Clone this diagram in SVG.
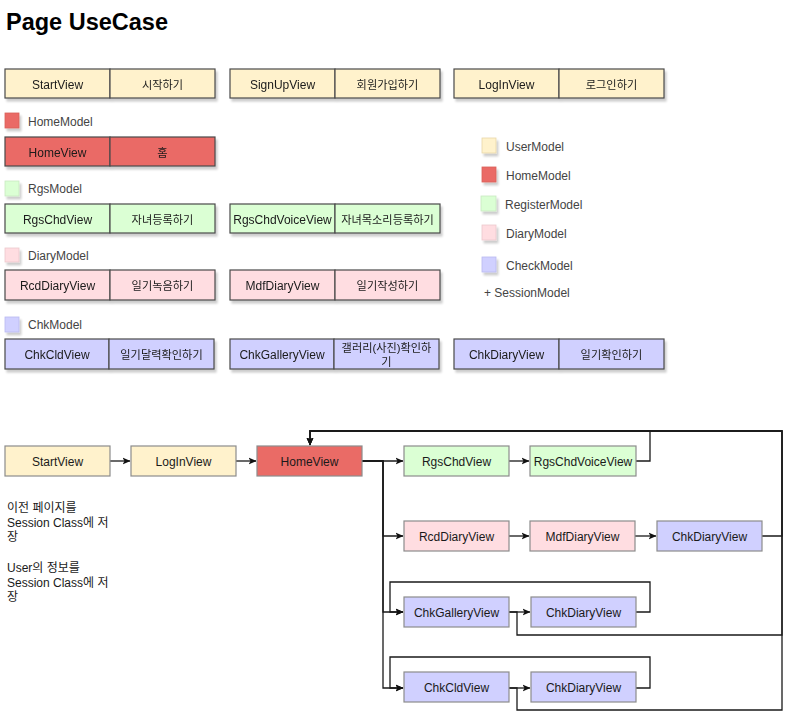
<svg xmlns="http://www.w3.org/2000/svg" width="792" height="719" viewBox="0 0 792 719">
<defs>
<filter id="sh" x="-20%" y="-20%" width="150%" height="160%">
<feGaussianBlur in="SourceAlpha" stdDeviation="1"/>
<feOffset dx="2" dy="2.5" result="o"/>
<feComponentTransfer><feFuncA type="linear" slope="0.2"/></feComponentTransfer>
<feMerge><feMergeNode/><feMergeNode in="SourceGraphic"/></feMerge>
</filter>
<marker id="arr" markerWidth="10" markerHeight="10" refX="7.5" refY="4" orient="auto" markerUnits="userSpaceOnUse">
<path d="M0,0.5 L8,4 L0,7.5 L2,4 Z" fill="#111"/>
</marker>
</defs>
<style>
text{font-family:"Liberation Sans","Noto Sans CJK KR",Arial,sans-serif;font-size:12px;fill:#1a1a1a}
.c{text-anchor:middle;dominant-baseline:central;transform:translateY(1px)}
.k{font-size:11.2px}
.lg{fill:#444;dominant-baseline:central;transform:translateY(1px)}
.cell{stroke:#4a4a4a;stroke-width:1.2}
.node{stroke:#8c8c8c;stroke-width:1.2}
.y{fill:#fff2cc}.r{fill:#ea6b66}.g{fill:#dbffd4}.p{fill:#ffdde1}.b{fill:#d0d0ff}
.sw{stroke-width:0.8;filter:url(#sh)}
.e{fill:none;stroke:#1a1a1a;stroke-width:1.3}
.ea{fill:none;stroke:#1a1a1a;stroke-width:1.3;marker-end:url(#arr)}
</style>
<rect width="792" height="719" fill="#fff"/>
<text id="title" x="6" y="30" style="font-size:23.5px;font-weight:bold;fill:#000">Page UseCase</text>

<!-- Table rows -->
<g id="t-start" filter="url(#sh)"><rect class="cell y" x="5" y="69" width="105" height="29"/><rect class="cell y" x="110" y="69" width="105" height="29"/><text class="c" x="57.5" y="83.5">StartView</text><text class="c k" x="162.5" y="83.5">시작하기</text></g>
<g id="t-signup" filter="url(#sh)"><rect class="cell y" x="230" y="69" width="105" height="29"/><rect class="cell y" x="335" y="69" width="105" height="29"/><text class="c" x="282.5" y="83.5">SignUpView</text><text class="c k" x="387.5" y="83.5">회원가입하기</text></g>
<g id="t-login" filter="url(#sh)"><rect class="cell y" x="454" y="69" width="105" height="29"/><rect class="cell y" x="559" y="69" width="105" height="29"/><text class="c" x="506.5" y="83.5">LogInView</text><text class="c k" x="611.5" y="83.5">로그인하기</text></g>

<g id="sw-home"><rect class="sw r" x="5" y="113" width="14" height="15" stroke="#d9605b"/><text class="lg" x="28" y="121">HomeModel</text></g>
<g id="t-home" filter="url(#sh)"><rect class="cell r" x="5" y="137" width="105" height="29"/><rect class="cell r" x="110" y="137" width="105" height="29"/><text class="c" x="57.5" y="151.5">HomeView</text><text class="c k" x="162.5" y="151.5">홈</text></g>

<g id="sw-rgs"><rect class="sw g" x="5" y="181" width="14" height="15" stroke="#c9e8c0"/><text class="lg" x="28" y="188">RgsModel</text></g>
<g id="t-rgschd" filter="url(#sh)"><rect class="cell g" x="5" y="204" width="105" height="29"/><rect class="cell g" x="110" y="204" width="105" height="29"/><text class="c" x="57.5" y="218.5">RgsChdView</text><text class="c k" x="162.5" y="218.5">자녀등록하기</text></g>
<g id="t-rgsvoice" filter="url(#sh)"><rect class="cell g" x="230" y="204" width="105" height="29"/><rect class="cell g" x="335" y="204" width="105" height="29"/><text class="c" x="282.5" y="218.5">RgsChdVoiceView</text><text class="c k" x="387.5" y="218.5">자녀목소리등록하기</text></g>

<g id="sw-diary"><rect class="sw p" x="5" y="248" width="14" height="14" stroke="#ecc8cc"/><text class="lg" x="28" y="255">DiaryModel</text></g>
<g id="t-rcd" filter="url(#sh)"><rect class="cell p" x="5" y="270" width="105" height="30"/><rect class="cell p" x="110" y="270" width="105" height="30"/><text class="c" x="57.5" y="285">RcdDiaryView</text><text class="c k" x="162.5" y="285">일기녹음하기</text></g>
<g id="t-mdf" filter="url(#sh)"><rect class="cell p" x="230" y="270" width="105" height="30"/><rect class="cell p" x="335" y="270" width="105" height="30"/><text class="c" x="282.5" y="285">MdfDiaryView</text><text class="c k" x="387.5" y="285">일기작성하기</text></g>

<g id="sw-chk"><rect class="sw b" x="5" y="317" width="14" height="15" stroke="#babaf0"/><text class="lg" x="28" y="324">ChkModel</text></g>
<g id="t-chkcld" filter="url(#sh)"><rect class="cell b" x="5" y="339" width="104" height="30"/><rect class="cell b" x="109" y="339" width="105" height="30"/><text class="c" x="57" y="354">ChkCldView</text><text class="c k" x="161.5" y="354">일기달력확인하기</text></g>
<g id="t-chkgal" filter="url(#sh)"><rect class="cell b" x="230" y="339" width="104" height="30"/><rect class="cell b" x="334" y="339" width="105" height="30"/><text class="c" x="282" y="354">ChkGalleryView</text><text class="c k" x="386.5" y="347">갤러리(사진)확인하</text><text class="c k" x="386.5" y="361">기</text></g>
<g id="t-chkdiary" filter="url(#sh)"><rect class="cell b" x="454" y="339" width="105" height="30"/><rect class="cell b" x="559" y="339" width="105" height="30"/><text class="c" x="506.5" y="354">ChkDiaryView</text><text class="c k" x="611.5" y="354">일기확인하기</text></g>

<!-- Legend -->
<g id="legend">
<rect class="sw y" x="482" y="138" width="14" height="15" stroke="#e8d8a8"/><text class="lg" x="506" y="146">UserModel</text>
<rect class="sw r" x="482" y="167" width="14" height="15" stroke="#d9605b"/><text class="lg" x="506" y="175">HomeModel</text>
<rect class="sw g" x="481" y="196" width="15" height="15" stroke="#c9e8c0"/><text class="lg" x="505" y="204">RegisterModel</text>
<rect class="sw p" x="482" y="225" width="14" height="15" stroke="#ecc8cc"/><text class="lg" x="506" y="233">DiaryModel</text>
<rect class="sw b" x="482" y="257" width="14" height="15" stroke="#babaf0"/><text class="lg" x="506" y="265">CheckModel</text>
<text class="lg" x="484" y="292">+ SessionModel</text>
</g>

<!-- Notes -->
<g id="notes" style="fill:#222">
<text x="7" y="512">이전 페이지를</text>
<text x="7" y="527">Session Class에 저</text>
<text x="7" y="541">장</text>
<text x="7" y="572">User의 정보를</text>
<text x="7" y="587">Session Class에 저</text>
<text x="7" y="601">장</text>
</g>

<!-- Connectors -->
<g id="connectors">
<path class="ea" d="M110,461 H130"/>
<path class="ea" d="M236,461 H256"/>
<path class="ea" d="M362,461 H403"/>
<path class="ea" d="M362,461 H383 V536 H403"/>
<path class="ea" d="M362,461 H383 V612 H403"/>
<path class="ea" d="M362,461 H383 V688 H403"/>
<path class="ea" d="M509,461 H529"/>
<path class="ea" d="M636,461 H650 V431 H310 V445"/>
<path class="ea" d="M509,536 H529"/>
<path class="ea" d="M635,536 H656"/>
<path class="ea" d="M762,536 H782 V431 H310 V445"/>
<path class="ea" d="M509,612 H530"/>
<path class="ea" d="M636,612 H650 V582 H390 V612 H403"/>
<path class="ea" d="M509,612 H517 V635 H782 V431 H310 V445"/>
<path class="ea" d="M509,688 H530"/>
<path class="ea" d="M636,688 H650 V657 H390 V688 H403"/>
<path class="ea" d="M509,688 H517 V710 H782 V431 H310 V445"/>
</g>

<!-- Flow nodes -->
<g id="n-start"><rect class="node y" x="5" y="446" width="105" height="30"/><text class="c" x="57.5" y="461">StartView</text></g>
<g id="n-login"><rect class="node y" x="131" y="446" width="105" height="30"/><text class="c" x="183.5" y="461">LogInView</text></g>
<g id="n-home"><rect class="node r" x="257" y="446" width="105" height="30"/><text class="c" x="309.5" y="461">HomeView</text></g>
<g id="n-rgschd"><rect class="node g" x="404" y="446" width="105" height="30"/><text class="c" x="456.5" y="461">RgsChdView</text></g>
<g id="n-rgsvoice"><rect class="node g" x="530" y="446" width="106" height="30"/><text class="c" x="583" y="461">RgsChdVoiceView</text></g>
<g id="n-rcd"><rect class="node p" x="404" y="521" width="105" height="30"/><text class="c" x="456.5" y="536">RcdDiaryView</text></g>
<g id="n-mdf"><rect class="node p" x="530" y="521" width="105" height="30"/><text class="c" x="582.5" y="536">MdfDiaryView</text></g>
<g id="n-chkdiary1"><rect class="node b" x="657" y="521" width="105" height="30"/><text class="c" x="709.5" y="536">ChkDiaryView</text></g>
<g id="n-chkgal"><rect class="node b" x="404" y="597" width="105" height="30"/><text class="c" x="456.5" y="612">ChkGalleryView</text></g>
<g id="n-chkdiary2"><rect class="node b" x="531" y="597" width="105" height="30"/><text class="c" x="583.5" y="612">ChkDiaryView</text></g>
<g id="n-chkcld"><rect class="node b" x="404" y="672" width="105" height="30"/><text class="c" x="456.5" y="687">ChkCldView</text></g>
<g id="n-chkdiary3"><rect class="node b" x="531" y="672" width="105" height="30"/><text class="c" x="583.5" y="687">ChkDiaryView</text></g>
</svg>
